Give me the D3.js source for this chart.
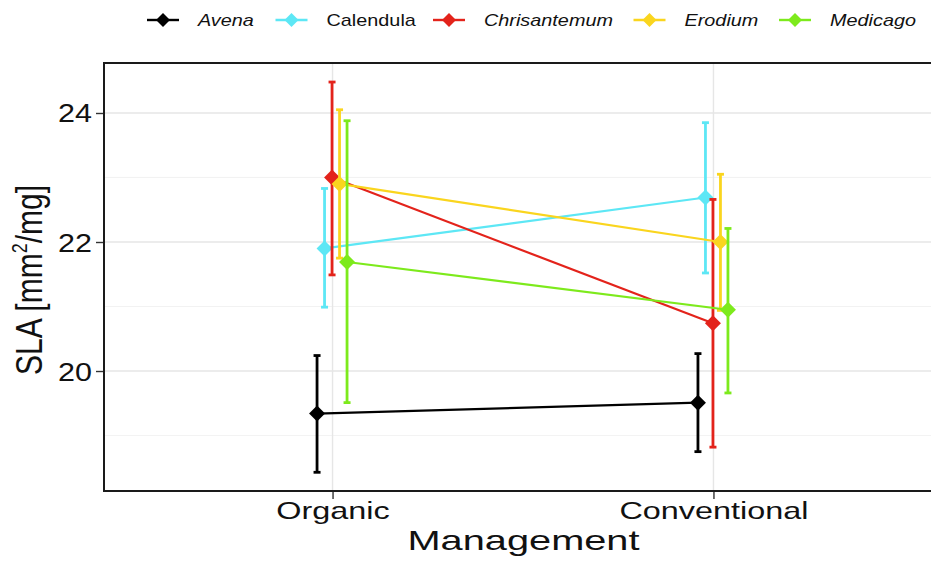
<!DOCTYPE html>
<html>
<head>
<meta charset="utf-8">
<script src="https://cdn.jsdelivr.net/npm/d3@7"></script>
<style>
  html, body { margin: 0; padding: 0; background: #fff; overflow: hidden; }
  svg { display: block; font-family: "Liberation Sans", Arial, sans-serif; }
</style>
</head>
<body>
<svg id="chart" width="931" height="561"></svg>
<script>
// ---- Data ----
const categories = ["Organic", "Conventional"];
const species = ["Avena", "Calendula", "Chrisantemum", "Erodium", "Medicago"];
const italicSpecies = [true, false, true, true, true];
const colors = ["#000000", "#5DE7F5", "#E3231B", "#FAD51E", "#7DEA1C"];
// mean SLA per species: [Organic, Conventional]
const meanAvena = [19.34, 19.51];
const meanCalendula = [21.90, 22.69];
const meanChrisantemum = [23.00, 20.74];
const meanErodium = [22.90, 22.00];
const meanMedicago = [21.69, 20.95];
// lower / upper ends of error bars
const lowAvena = [18.43, 18.75];
const highAvena = [20.24, 20.27];
const lowCalendula = [20.99, 21.52];
const highCalendula = [22.83, 23.85];
const lowChrisantemum = [21.49, 18.82];
const highChrisantemum = [24.48, 22.66];
const lowErodium = [21.75, 20.94];
const highErodium = [24.05, 23.05];
const lowMedicago = [19.51, 19.66];
const highMedicago = [23.88, 22.21];
const yTicks = [20, 22, 24];
const yMinor = [19, 21, 23];

const means = [meanAvena, meanCalendula, meanChrisantemum, meanErodium, meanMedicago];
const lows = [lowAvena, lowCalendula, lowChrisantemum, lowErodium, lowMedicago];
const highs = [highAvena, highCalendula, highChrisantemum, highErodium, highMedicago];

// ---- Layout ----
const svg = d3.select("#chart");
const panel = { left: 104, top: 63, right: 942, bottom: 491 };
const visibleRight = 931;

const x = d3.scalePoint().domain(categories).range([panel.left, panel.right]).padding(0.6);
const y = d3.scaleLinear().domain([18.14, 24.775]).range([panel.bottom, panel.top]);
const dodgeStep = 7.5;
const dodge = i => (i - 2) * dodgeStep - 0.5;

// grid
const g = svg.append("g");
g.selectAll("line.minor").data(yMinor).join("line")
  .attr("x1", panel.left).attr("x2", visibleRight)
  .attr("y1", d => y(d)).attr("y2", d => y(d))
  .attr("stroke", "#EFEFEF").attr("stroke-width", 0.8);
g.selectAll("line.major").data(yTicks).join("line")
  .attr("x1", panel.left).attr("x2", visibleRight)
  .attr("y1", d => y(d)).attr("y2", d => y(d))
  .attr("stroke", "#E6E6E6").attr("stroke-width", 1.4);
g.selectAll("line.vmajor").data(categories).join("line")
  .attr("x1", d => x(d)).attr("x2", d => x(d))
  .attr("y1", panel.top).attr("y2", panel.bottom)
  .attr("stroke", "#E6E6E6").attr("stroke-width", 1.4);

// series
species.forEach((sp, i) => {
  const col = colors[i];
  const pts = categories.map((c, j) => ({ x: x(c) + dodge(i), m: means[i][j], lo: lows[i][j], hi: highs[i][j] }));
  const sg = svg.append("g");
  sg.append("path")
    .attr("d", d3.line().x(d => d.x).y(d => y(d.m))(pts))
    .attr("fill", "none").attr("stroke", col).attr("stroke-width", 2.2);
  pts.forEach(p => {
    sg.append("line").attr("x1", p.x).attr("x2", p.x).attr("y1", y(p.lo)).attr("y2", y(p.hi))
      .attr("stroke", col).attr("stroke-width", 2.8);
    [p.lo, p.hi].forEach(v => {
      sg.append("line").attr("x1", p.x - 3.5).attr("x2", p.x + 3.5).attr("y1", y(v)).attr("y2", y(v))
        .attr("stroke", col).attr("stroke-width", 2.8);
    });
  });
  sg.selectAll("path.pt").data(pts).join("path")
    .attr("d", d => `M${d.x},${y(d.m) - 8}L${d.x + 8},${y(d.m)}L${d.x},${y(d.m) + 8}L${d.x - 8},${y(d.m)}Z`)
    .attr("fill", col);
});

// panel border: top, left, bottom (right side lies beyond the picture)
svg.append("path")
  .attr("d", `M${visibleRight + 2},${panel.top}H${panel.left}V${panel.bottom}H${visibleRight + 2}`)
  .attr("fill", "none").attr("stroke", "#1a1a1a").attr("stroke-width", 2);

// y axis
const ySx = 1.22;
const yAxis = d3.axisLeft(y).tickValues(yTicks).tickSize(7).tickPadding(5).tickFormat(d3.format("d"));
const ya = svg.append("g").attr("transform", `translate(${panel.left - 1},0)`).call(yAxis);
ya.select(".domain").remove();
ya.selectAll(".tick line").attr("stroke", "#333").attr("stroke-width", 1.4);
ya.selectAll(".tick text").attr("font-size", 25).attr("fill", "#111")
  .attr("font-family", "Liberation Sans, Arial, sans-serif")
  .attr("x", -11 / ySx).attr("dy", "0.36em")
  .attr("transform", `scale(${ySx},1)`);

// x axis
const xSx = 1.35;
const xAxis = d3.axisBottom(x).tickSize(7).tickPadding(3);
const xa = svg.append("g").attr("transform", `translate(0,${panel.bottom + 1})`).call(xAxis);
xa.select(".domain").remove();
xa.selectAll(".tick line").attr("stroke", "#333").attr("stroke-width", 1.4);
xa.selectAll(".tick text").attr("font-size", 24).attr("fill", "#111")
  .attr("font-family", "Liberation Sans, Arial, sans-serif")
  .attr("transform", `scale(${xSx},1)`);

// axis titles
svg.append("text").attr("transform", `translate(523.5,550) scale(1.42,1)`).attr("text-anchor", "middle")
  .attr("font-size", 28).attr("fill", "#111").text("Management");
const yt = svg.append("text").attr("transform", `translate(42,${(panel.top + panel.bottom) / 2 + 3}) scale(1.25,1) rotate(-90)`)
  .attr("text-anchor", "middle").attr("font-size", 30).attr("fill", "#111");
yt.append("tspan").text("SLA [mm");
yt.append("tspan").attr("font-size", 18).attr("dy", -12).text("2");
yt.append("tspan").attr("dy", 12).text("/mg]");

// legend
const legendKeyX = [163, 291.5, 449, 649.5, 795];
const legendY = 20;
const lg = svg.append("g");
species.forEach((sp, i) => {
  const kx = legendKeyX[i];
  lg.append("line").attr("x1", kx - 16).attr("x2", kx + 16).attr("y1", legendY).attr("y2", legendY)
    .attr("stroke", colors[i]).attr("stroke-width", 2.4);
  lg.append("path").attr("d", `M${kx},${legendY - 7}L${kx + 7},${legendY}L${kx},${legendY + 7}L${kx - 7},${legendY}Z`)
    .attr("fill", colors[i]);
  lg.append("text").attr("transform", `translate(${kx + 35},${legendY + 6}) scale(1.24,1)`).attr("font-size", 16)
    .attr("font-style", italicSpecies[i] ? "italic" : "normal").attr("fill", "#111").text(sp);
});
</script>
</body>
</html>
